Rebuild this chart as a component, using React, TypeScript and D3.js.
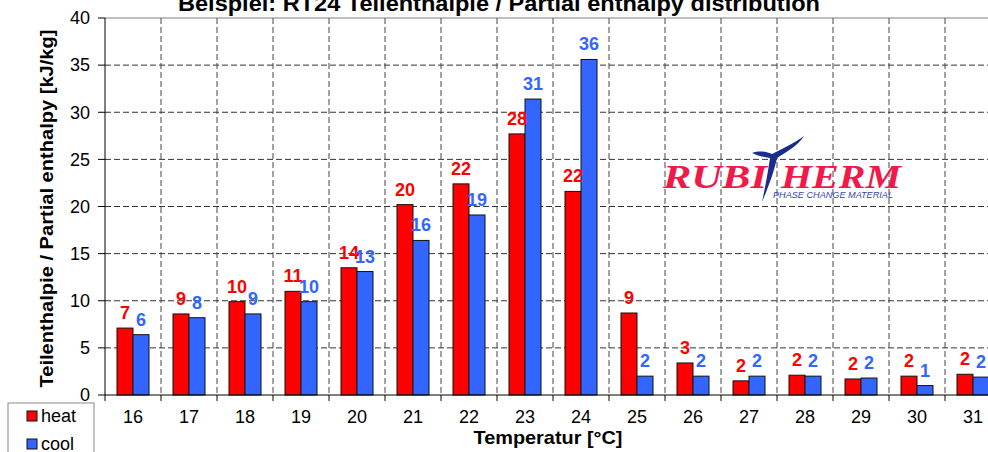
import * as d3 from 'd3';

const temps = ['16', '17', '18', '19', '20', '21', '22', '23', '24', '25', '26', '27', '28', '29', '30', '31'];
const heat = [7.1, 8.6, 9.9, 11.0, 13.5, 20.2, 22.4, 27.7, 21.6, 8.7, 3.4, 1.5, 2.1, 1.7, 2.0, 2.2];
const cool = [6.4, 8.2, 8.6, 9.9, 13.1, 16.4, 19.1, 31.4, 35.6, 2.0, 2.0, 2.0, 2.0, 1.8, 1.0, 1.9];
const yTicks = [0, 5, 10, 15, 20, 25, 30, 35, 40];

const W = 988;
const H = 452;
const margin = { top: 18, left: 105, bottom: 57 };
const plotRight = 1001;
const font = '"Liberation Sans", Arial, sans-serif';
const RED = '#ff0000';
const BLUE = '#3366ff';

export default function App() {
  const x = d3.scaleBand().domain(temps).range([margin.left, plotRight]);
  const y = d3.scaleLinear().domain([0, 40]).range([H - margin.bottom, margin.top]);
  const barW = 16;
  const base = y(0);
  const bounds = temps.map((t) => x(t) as number).concat([plotRight]);

  return (
    <svg width={W} height={H} style={{ position: 'absolute', left: 0, top: 0, background: '#fff' }} fontFamily={font}>
      <text x={499} y={11} textAnchor="middle" fontWeight="bold" fontSize={22} textLength={642} lengthAdjust="spacingAndGlyphs">
        Beispiel: RT24 Teilenthalpie / Partial enthalpy distribution
      </text>

      {/* grid */}
      <line x1={margin.left} x2={plotRight} y1={y(40)} y2={y(40)} stroke="#aaa" strokeWidth={1.5} />
      {yTicks.slice(1, -1).map((t) => (
        <line key={t} x1={margin.left} x2={plotRight} y1={y(t)} y2={y(t)} stroke="#333" strokeDasharray="6,3" />
      ))}
      {bounds.slice(1).map((b, i) => (
        <line key={i} x1={b} x2={b} y1={y(40)} y2={base} stroke="#444" strokeDasharray="6,3" />
      ))}

      {/* bars */}
      {temps.map((t, i) => {
        const c = (x(t) as number) + x.bandwidth() / 2;
        return (
          <g key={t}>
            <rect x={c - barW} y={y(heat[i])} width={barW} height={base - y(heat[i])} fill={RED} stroke="#111" strokeWidth={1} />
            <rect x={c} y={y(cool[i])} width={barW} height={base - y(cool[i])} fill={BLUE} stroke="#111" strokeWidth={1} />
            <text x={c - barW / 2} y={y(heat[i]) - 9} textAnchor="middle" fontWeight="bold" fontSize={18} fill={RED}>
              {Math.round(heat[i])}
            </text>
            <text x={c + barW / 2} y={y(cool[i]) - 9} textAnchor="middle" fontWeight="bold" fontSize={18} fill={BLUE}>
              {Math.round(cool[i])}
            </text>
          </g>
        );
      })}

      {/* axes */}
      <line x1={margin.left} x2={margin.left} y1={y(40)} y2={base} stroke="#000" />
      <line x1={margin.left} x2={plotRight} y1={base} y2={base} stroke="#000" />
      {yTicks.map((t) => (
        <g key={t}>
          <line x1={margin.left - 7} x2={margin.left} y1={y(t)} y2={y(t)} stroke="#000" />
          <text x={90} y={y(t)} dy="0.35em" textAnchor="end" fontSize={18}>
            {t}
          </text>
        </g>
      ))}
      {bounds.map((b, i) => (
        <line key={i} x1={b} x2={b} y1={base} y2={base + 6} stroke="#000" />
      ))}
      {temps.map((t) => (
        <text key={t} x={(x(t) as number) + x.bandwidth() / 2} y={423} textAnchor="middle" fontSize={18}>
          {t}
        </text>
      ))}
      <text x={548} y={444} textAnchor="middle" fontWeight="bold" fontSize={19} textLength={149} lengthAdjust="spacingAndGlyphs">
        Temperatur [°C]
      </text>
      <text transform={`translate(53,${(y(40) + base) / 2 + 2}) rotate(-90)`} textAnchor="middle" fontWeight="bold" fontSize={18} textLength={358} lengthAdjust="spacingAndGlyphs">
        Teilenthalpie / Partial enthalpy [kJ/kg]
      </text>

      {/* legend */}
      <rect x={8} y={403} width={86} height={60} fill="#fff" stroke="#888" />
      <rect x={27} y={411} width={10} height={10} fill={RED} stroke="#111" />
      <text x={41} y={416} dy="0.35em" fontSize={18}>heat</text>
      <rect x={27} y={439} width={10} height={10} fill={BLUE} stroke="#111" />
      <text x={41} y={444} dy="0.35em" fontSize={18}>cool</text>

      {/* logo */}
      <g>
        <text x={663} y={188} fontFamily='"Liberation Serif", "DejaVu Serif", serif' fontStyle="italic" fontWeight="bold" fontSize={33} fill="#f0194a" textLength={104} lengthAdjust="spacingAndGlyphs">
          RUBI
        </text>
        <text x={781} y={188} fontFamily='"Liberation Serif", "DejaVu Serif", serif' fontStyle="italic" fontWeight="bold" fontSize={33} fill="#f0194a" textLength={120} lengthAdjust="spacingAndGlyphs">
          HERM
        </text>
        <path d="M752,153 C760,150 768,152 772,154 C784,148 796,142 804,136 C798,146 786,152 777,158 C774,172 768,188 762,202 C765,188 768,172 770,158 C764,157 758,156 752,153 Z" fill="#1a2d8f" />
        <text x={773} y={198} fontStyle="italic" fontSize={8.5} fill="#3344aa" textLength={120} lengthAdjust="spacingAndGlyphs">
          PHASE CHANGE MATERIAL
        </text>
      </g>
    </svg>
  );
}
